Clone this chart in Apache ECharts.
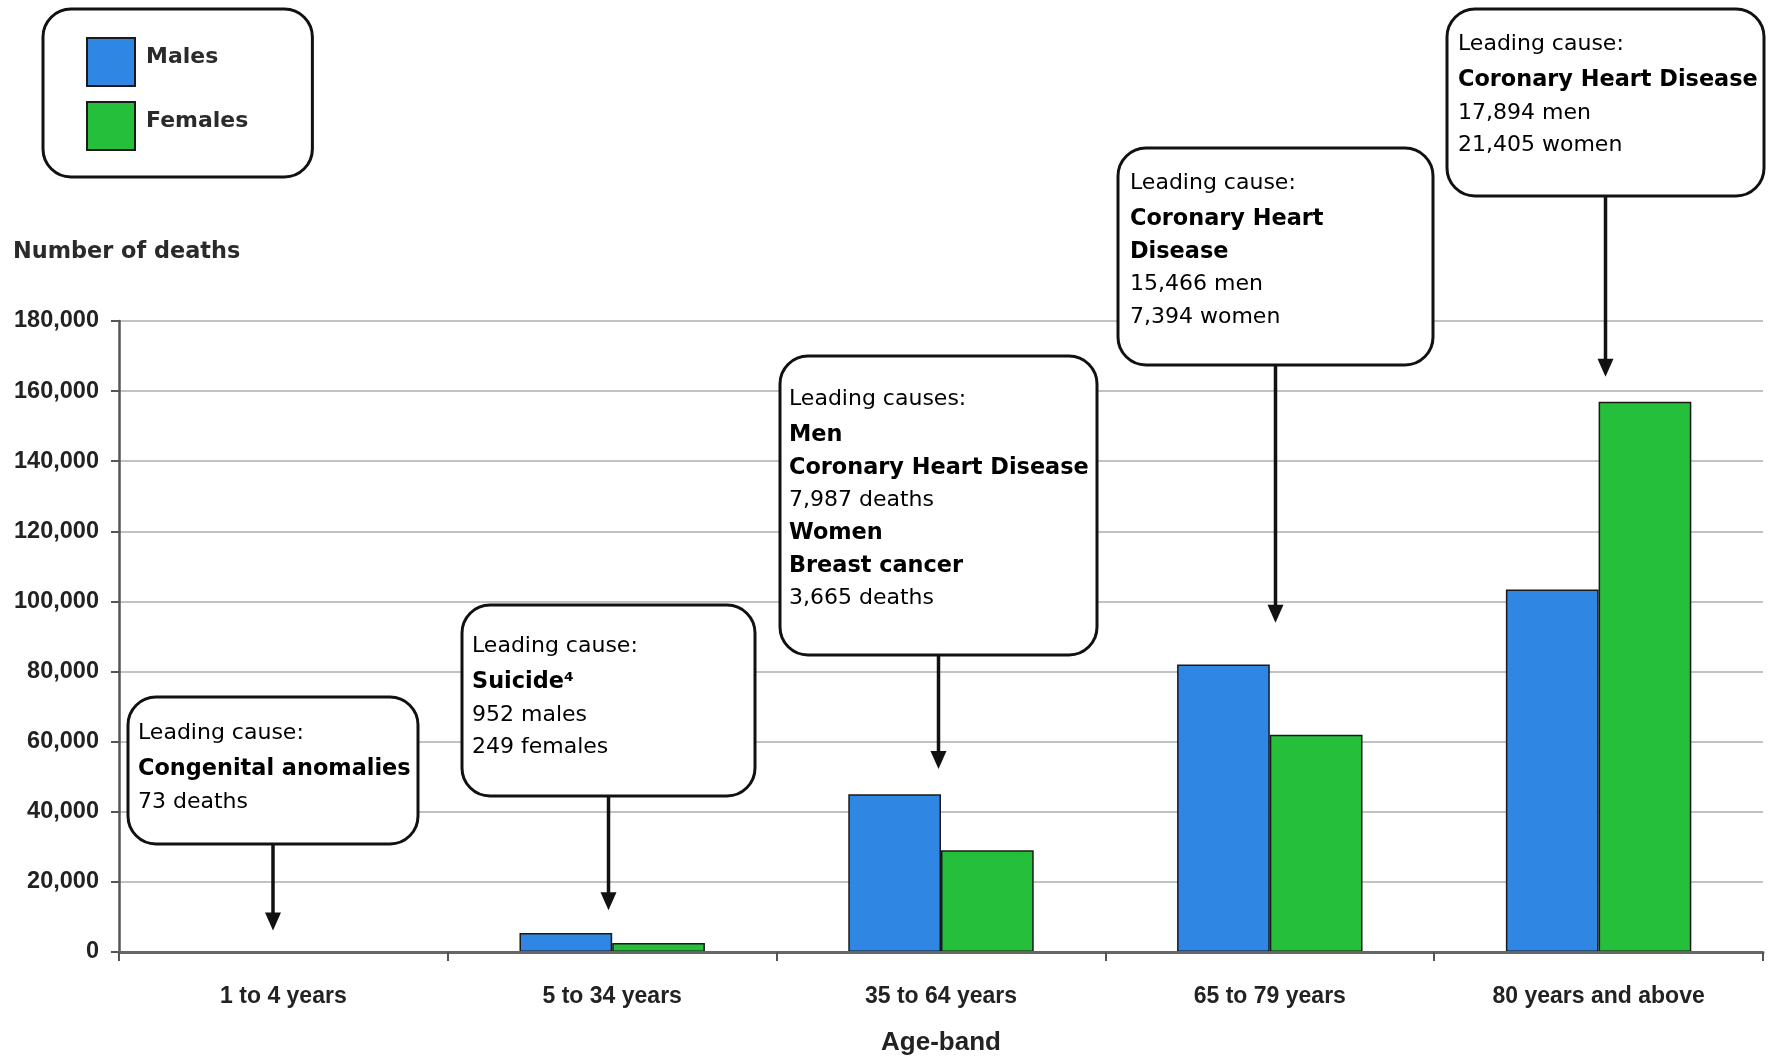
<!DOCTYPE html>
<html>
<head>
<meta charset="utf-8">
<script src="https://cdn.jsdelivr.net/npm/echarts@6/dist/echarts.min.js"></script>
<style>
html,body{margin:0;padding:0;background:#fff;}
#chart{width:1772px;height:1057px;}
</style>
</head>
<body>
<div id="chart"></div>
<script>
// ---- data ----
const categories = ['1 to 4 years', '5 to 34 years', '35 to 64 years', '65 to 79 years', '80 years and above'];
const males = [150, 5400, 45000, 82000, 103400];
const females = [120, 2600, 29000, 62000, 157000];
const yTicks = [0, 20000, 40000, 60000, 80000, 100000, 120000, 140000, 160000, 180000];

// annotation texts (one list of lines per category), r = regular, b = bold
const annotationTexts = [
  [['r', 'Leading cause:'], ['b', 'Congenital anomalies'], ['r', '73 deaths']],
  [['r', 'Leading cause:'], ['b', 'Suicide\u2074'], ['r', '952 males'], ['r', '249 females']],
  [['r', 'Leading causes:'], ['b', 'Men'], ['b', 'Coronary Heart Disease'], ['r', '7,987 deaths'], ['b', 'Women'], ['b', 'Breast cancer'], ['r', '3,665 deaths']],
  [['r', 'Leading cause:'], ['b', 'Coronary Heart'], ['b', 'Disease'], ['r', '15,466 men'], ['r', '7,394 women']],
  [['r', 'Leading cause:'], ['b', 'Coronary Heart Disease'], ['r', '17,894 men'], ['r', '21,405 women']]
];
// value (on the y axis) at which each arrow tip points
const arrowTipValues = [6100, 11900, 52200, 93900, 164100];

// ---- layout (pixels) ----
const boxes = [
  {x: 128, y: 697, w: 290, h: 147, tx: 138, ty: 733},
  {x: 462, y: 605, w: 293, h: 191, tx: 472, ty: 646},
  {x: 780, y: 356, w: 317, h: 299, tx: 789, ty: 399},
  {x: 1118, y: 148, w: 315, h: 217, tx: 1130, ty: 183},
  {x: 1447, y: 9, w: 317, h: 187, tx: 1458, ty: 44}
];
const LH = 32.7;
const FIRST_EXTRA = 7;

const chart = echarts.init(document.getElementById('chart'), null, {renderer: 'canvas'});

const barBorder = {borderColor: '#1a1a1a', borderWidth: 1.5};

chart.setOption({
  animation: false,
  backgroundColor: '#ffffff',
  title: {
    text: 'Number of deaths',
    left: 13, top: 239, padding: 0,
    textStyle: {fontFamily: 'DejaVu Sans', fontWeight: 'bold', fontSize: 22.4, color: '#2a2a2a', lineHeight: 26}
  },
  legend: {
    orient: 'vertical',
    left: 43, top: 9,
    padding: [28, 64, 26, 43],
    itemWidth: 48, itemHeight: 48, itemGap: 14,
    icon: 'rect',
    borderColor: '#111', borderWidth: 3, borderRadius: 28,
    backgroundColor: '#fff',
    formatter: '{t|{name}}',
    textStyle: {
      fontFamily: 'DejaVu Sans', fontWeight: 'bold', fontSize: 22, color: '#2a2a2a', padding: [0, 0, 0, 6],
      rich: {t: {fontFamily: 'DejaVu Sans', fontWeight: 'bold', fontSize: 22, color: '#2a2a2a', lineHeight: 26, padding: [0, 0, 9, 0]}}
    },
    data: ['Males', 'Females']
  },
  grid: {left: 119, right: 9, top: 321, bottom: 105, containLabel: false, outerBoundsMode: 'none'},
  xAxis: {
    type: 'category',
    data: categories,
    z: 3,
    name: 'Age-band',
    nameLocation: 'middle',
    nameGap: 78,
    nameTextStyle: {fontFamily: 'Liberation Sans', fontWeight: 'bold', fontSize: 26, color: '#222'},
    axisLine: {lineStyle: {color: '#666', width: 3}},
    axisTick: {show: true, length: 9, lineStyle: {color: '#555', width: 2}},
    axisLabel: {margin: 33, fontFamily: 'Liberation Sans', fontWeight: 'bold', fontSize: 23, color: '#222'}
  },
  yAxis: {
    type: 'value',
    min: 0, max: 180000, interval: 20000,
    axisLine: {show: true, lineStyle: {color: '#555', width: 2.5}},
    axisTick: {show: true, length: 8, lineStyle: {color: '#555', width: 2}},
    splitLine: {show: true, lineStyle: {color: '#c2c2c2', width: 2}},
    axisLabel: {
      margin: 20, fontFamily: 'Liberation Sans', fontWeight: 'bold', fontSize: 23.5, color: '#222',
      formatter: function (v) { return yTicks.indexOf(v) >= 0 ? v.toLocaleString('en-US') : ''; }
    }
  },
  series: [
    {
      name: 'Males', type: 'bar', data: males,
      barGap: '0%', barCategoryGap: '43.6%',
      itemStyle: Object.assign({color: '#2f86e3'}, barBorder)
    },
    {
      name: 'Females', type: 'bar', data: females,
      barGap: '0%', barCategoryGap: '43.6%',
      itemStyle: Object.assign({color: '#26bf3b'}, barBorder)
    }
  ]
});

// ---- annotation boxes and arrows ----
const graphics = [];
boxes.forEach(function (b, i) {
  graphics.push({
    type: 'rect', z: 100,
    shape: {x: b.x, y: b.y, width: b.w, height: b.h, r: 28},
    style: {fill: '#fff', stroke: '#111', lineWidth: 3}
  });
  const txt = annotationTexts[i].map(function (l, k) {
    return '{' + (k === 0 ? 'f' : l[0]) + '|' + l[1] + '}';
  }).join('\n');
  graphics.push({
    type: 'text', z: 101,
    x: b.tx, y: b.ty - (LH + FIRST_EXTRA) / 2,
    style: {
      text: txt,
      verticalAlign: 'top', align: 'left',
      rich: {
        f: {fontFamily: 'DejaVu Sans', fontSize: 22, color: '#444', lineHeight: LH + FIRST_EXTRA},
        r: {fontFamily: 'DejaVu Sans', fontSize: 22, color: '#444', lineHeight: LH},
        b: {fontFamily: 'DejaVu Sans', fontWeight: 'bold', fontSize: 22.4, color: '#151515', lineHeight: LH}
      }
    }
  });
  const cx = b.x + b.w / 2;
  const tip = chart.convertToPixel({gridIndex: 0}, [categories[i], arrowTipValues[i]]);
  const tipY = tip[1];
  const headLen = 18, headW = 8;
  graphics.push({
    type: 'line', z: 100,
    shape: {x1: cx, y1: b.y + b.h, x2: cx, y2: tipY - headLen + 2},
    style: {stroke: '#111', lineWidth: 3.5}
  });
  graphics.push({
    type: 'polygon', z: 100,
    shape: {points: [[cx - headW, tipY - headLen], [cx + headW, tipY - headLen], [cx, tipY]]},
    style: {fill: '#111'}
  });
});
chart.setOption({graphic: graphics});
</script>
</body>
</html>
